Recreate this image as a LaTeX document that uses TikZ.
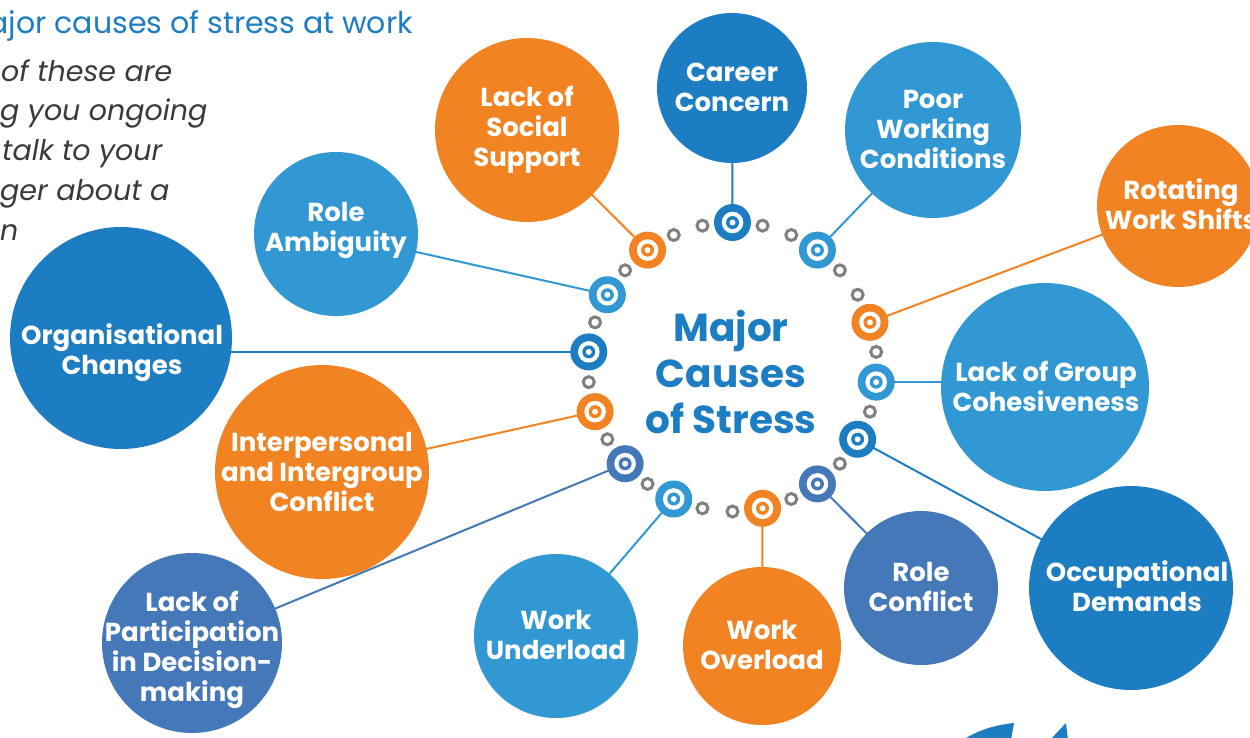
\documentclass[tikz,border=0pt]{standalone}
\usepackage{fontspec}
\setmainfont{Poppins}
\definecolor{dblue}{HTML}{1D7DC2}
\definecolor{lblue}{HTML}{3298D3}
\definecolor{orng}{HTML}{F28322}
\definecolor{steel}{HTML}{4478B9}
\definecolor{ringgrey}{HTML}{808080}
\definecolor{txtgrey}{HTML}{3A3A3A}
\pgfdeclarelayer{bg}\pgfsetlayers{bg,main}
\begin{document}
\begin{tikzpicture}[x=1pt,y=-1pt,
  big/.style={circle, fill=#1, inner sep=0pt},
  lab/.style={text=white, font=\bfseries\fontsize{26}{30}\selectfont, align=center, inner sep=0pt},
  bull/.style={circle, fill=#1, minimum size=37pt, inner sep=0pt,
    path picture={\fill[white] (path picture bounding box.center) circle (10.8pt);
                  \fill[#1] (path picture bounding box.center) circle (6.5pt);
                  \fill[white] (path picture bounding box.center) circle (3pt);}},
  gring/.style={circle, draw=ringgrey, line width=3pt, minimum size=11pt, inner sep=0pt},
  conn/.style={draw=#1, line width=2pt},
  side/.style={anchor=base west, text=txtgrey, font=\itshape\fontsize{28.5}{30}\selectfont, inner sep=0pt}]
\useasboundingbox (0,0) rectangle (1250,737);

% heading and side text
\node[anchor=base east, text=dblue, font=\fontsize{30}{36}\selectfont, inner sep=0pt] (title) at (413,33) {Major causes of stress at work};
\node[side] (s1) at (1,81) {of these are};
\node[side] (s2) at (0,120) {g you ongoing};
\node[side] (s3) at (2,160) {talk to your};
\node[side] (s4) at (0,200) {ger about a};
\node[side] (s5) at (0,240) {n};

% big circles
\node[big=dblue, minimum size=150pt] (career) at (732,88) {};
\node[big=orng, minimum size=184pt] (social) at (527,130) {};
\node[big=lblue, minimum size=176pt] (poor) at (933,130) {};
\node[big=lblue, minimum size=164pt] (roleamb) at (336,234) {};
\node[big=orng, minimum size=162pt] (rot) at (1178,206) {};
\node[big=dblue, minimum size=222pt] (org) at (121,338) {};
\node[big=lblue, minimum size=208pt] (cohes) at (1045,387) {};
\node[big=orng, minimum size=214pt] (inter) at (322,472) {};
\node[big=steel, minimum size=180pt] (partic) at (192,643) {};
\node[big=lblue, minimum size=164pt] (under) at (556,636) {};
\node[big=orng, minimum size=158pt] (over) at (762,646) {};
\node[big=steel, minimum size=154pt] (rconf) at (921,588) {};
\node[big=dblue, minimum size=204pt] (occ) at (1131,588) {};

% labels
\node[lab] (careerT) at (732,87) {Career\\Concern};
\node[lab] (socialT) at (527,130) {Lack of\\Social\\Support};
\node[lab] (poorT) at (933,129) {Poor\\Working\\Conditions};
\node[lab] (roleambT) at (336,230) {Role\\Ambiguity};
\node[lab] (rotT) at (1181,204) {Rotating\\Work Shifts};
\node[lab] (orgT) at (122,353) {Organisational\\Changes};
\node[lab] (cohesT) at (1046,386) {Lack of Group\\Cohesiveness};
\node[lab] (interT) at (322,472) {Interpersonal\\and Intergroup\\Conflict};
\node[lab] (particT) at (192,650) {Lack of\\Participation\\in Decision-\\making};
\node[lab] (underT) at (556,635) {Work\\Underload};
\node[lab] (overT) at (762,645) {Work\\Overload};
\node[lab] (rconfT) at (921,587) {Role\\Conflict};
\node[lab] (occT) at (1137,586) {Occupational\\Demands};

% centre
\node[text=dblue, font=\bfseries\fontsize{39}{46}\selectfont, align=center, inner sep=0pt] (centre) at (731,372) {Major\\Causes\\of Stress};

% ring
\coordinate (C) at (732.5,367);
\foreach \a in {6,30,42,66,78,102,114,138,162,186,210,234,258,270,294,318,342}
  \node[gring] (g\a) at ([shift={(\a:144.5pt)}]C) {};
\foreach \a/\c in {90/dblue,126/orng,150/lblue,174/dblue,198/orng,222/steel,246/lblue,282/orng,306/steel,330/dblue,354/lblue,18/orng,54/lblue}
  \node[bull=\c] (b\a) at ([shift={(\a:144.5pt)}]C) {};

% connectors and background
\begin{pgfonlayer}{bg}
\fill[white] (0,0) rectangle (1250,737);
\draw[conn=dblue] (b90.center) -- (career.center);
\draw[conn=orng] (b126.center) -- (social.center);
\draw[conn=lblue] (b150.center) -- (roleamb.center);
\draw[conn=dblue] (b174.center) -- (b174.center -| org.center);
\draw[conn=orng] (b198.center) -- (inter.center);
\draw[conn=steel] (b222.center) -- (partic.center);
\draw[conn=lblue] (b246.center) -- (under.center);
\draw[conn=orng] (b282.center) -- (over.center);
\draw[conn=steel] (b306.center) -- (rconf.center);
\draw[conn=dblue] (b330.center) -- (occ.center);
\draw[conn=lblue] (b354.center) -- (b354.center -| cohes.center);
\draw[conn=orng] (b18.center) -- (rot.center);
\draw[conn=lblue] (b54.center) -- (poor.center);
\end{pgfonlayer}

% partial shape at bottom edge
\fill[dblue] (963,740) .. controls (978,730) and (995,725) .. (1014,723) -- (1011,740) -- cycle;
\fill[dblue] (1050,740) -- (1066,723) -- (1068,740) -- cycle;
\end{tikzpicture}
\end{document}
